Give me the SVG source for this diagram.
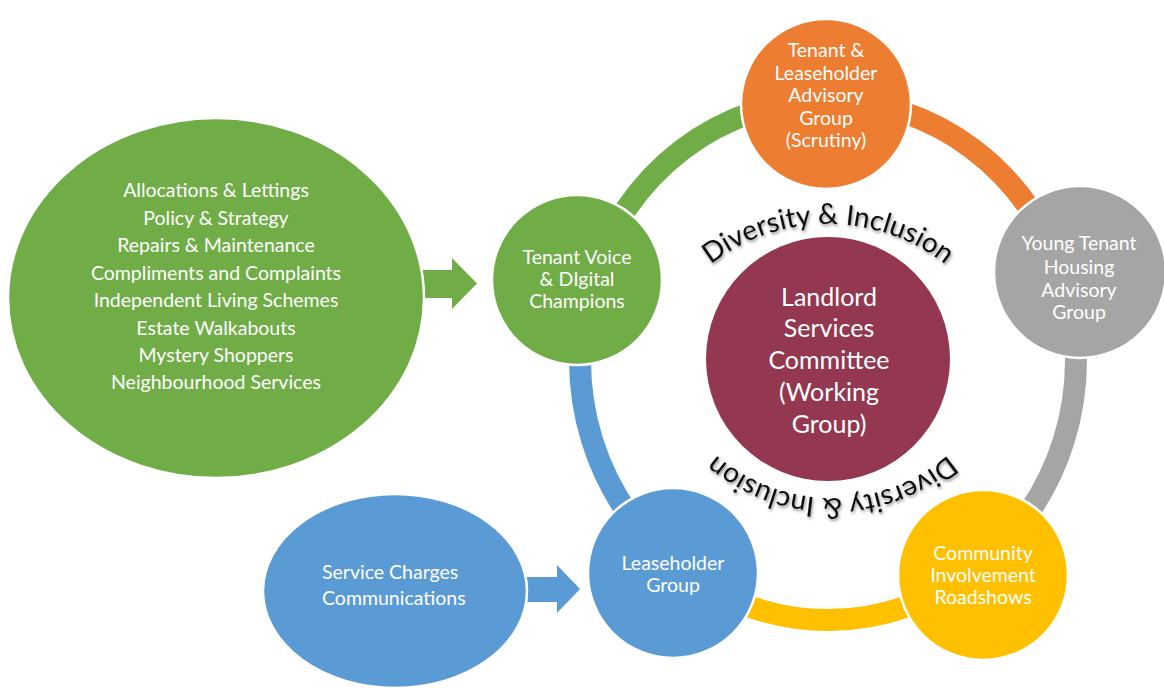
<svg xmlns="http://www.w3.org/2000/svg" width="1164" height="690" viewBox="0 0 1164 690">
  <defs>
    <style>
      .lbl { font-family: Lato, "Open Sans", "Liberation Sans", sans-serif; fill: #ffffff; text-anchor: middle; }
      .n19 { font-size: 19.5px; }
      .big { font-size: 25px; }
      .arc { fill: none; stroke-width: 22; stroke-linecap: butt; }
      .node { stroke: #ffffff; stroke-width: 2.5; }
      .curve { font-family: Lato, "Open Sans", "Liberation Sans", sans-serif; font-size: 28px; fill: #111111; }
    </style>
    <filter id="softShadow" x="-10%" y="-30%" width="120%" height="160%">
      <feDropShadow dx="1" dy="2" stdDeviation="1.6" flood-color="#000000" flood-opacity="0.45"/>
    </filter>
    <path id="topArc" d="M637,415 A191,191 0 0 1 1019,415"/>
    <path id="bottomArc" d="M1010,320 A178,178 0 0 1 654,320"/>
  </defs>

  <rect width="1164" height="690" fill="#ffffff"/>

  <!-- ring segments joining the five groups -->
  <g id="connectors">
    <path class="arc" stroke="#70AD47" d="M592.1,279.7 A248,260 0 0 1 828,100"/>
    <path class="arc" stroke="#ED7D31" d="M828,100 A248,260 0 0 1 1063.9,279.7"/>
    <path class="arc" stroke="#A5A5A5" d="M1063.9,279.7 A248,260 0 0 1 973.8,570.3"/>
    <path class="arc" stroke="#FFC000" d="M973.8,570.3 A248,260 0 0 1 682.2,570.3"/>
    <path class="arc" stroke="#5B9BD5" d="M682.2,570.3 A248,260 0 0 1 592.1,279.7"/>
    <polygon fill="#70AD47" points="410,270 452,270 452,258 477,283.5 452,309 452,298 410,298"/>
    <polygon fill="#5B9BD5" points="515,577 557,577 557,565 580,589 557,613 557,602 515,602"/>
  </g>

  <!-- service areas feeding Tenant Voice -->
  <g id="service-areas">
    <ellipse class="node" cx="216" cy="298" rx="208" ry="180" fill="#70AD47"/>
    <text class="lbl n19" x="216" y="197">Allocations &amp; Lettings</text>
    <text class="lbl n19" x="216" y="225">Policy &amp; Strategy</text>
    <text class="lbl n19" x="216" y="252">Repairs &amp; Maintenance</text>
    <text class="lbl n19" x="216" y="280">Compliments and Complaints</text>
    <text class="lbl n19" x="216" y="307">Independent Living Schemes</text>
    <text class="lbl n19" x="216" y="335">Estate Walkabouts</text>
    <text class="lbl n19" x="216" y="362">Mystery Shoppers</text>
    <text class="lbl n19" x="216" y="389">Neighbourhood Services</text>
  </g>

  <g id="service-charges">
    <ellipse class="node" cx="395" cy="591" rx="132" ry="97" fill="#5B9BD5"/>
    <text class="lbl n19" x="322" y="579" style="text-anchor:start">Service Charges</text>
    <text class="lbl n19" x="322" y="605" style="text-anchor:start">Communications</text>
  </g>

  <g id="tenant-voice">
    <circle class="node" cx="577" cy="280" r="85" fill="#70AD47"/>
    <text class="lbl n19" x="577" y="264">Tenant Voice</text>
    <text class="lbl n19" x="577" y="286">&amp; DIgital</text>
    <text class="lbl n19" x="577" y="308">Champions</text>
  </g>

  <g id="tenant-leaseholder-advisory">
    <circle class="node" cx="826" cy="104" r="85" fill="#ED7D31"/>
    <text class="lbl n19" x="826" y="57">Tenant &amp;</text>
    <text class="lbl n19" x="826" y="79.5">Leaseholder</text>
    <text class="lbl n19" x="826" y="102">Advisory</text>
    <text class="lbl n19" x="826" y="124.5">Group</text>
    <text class="lbl n19" x="826" y="147">(Scrutiny)</text>
  </g>

  <g id="young-tenant">
    <circle class="node" cx="1080" cy="272" r="86" fill="#A5A5A5"/>
    <text class="lbl n19" x="1079" y="250">Young Tenant</text>
    <text class="lbl n19" x="1079" y="274">Housing</text>
    <text class="lbl n19" x="1079" y="297">Advisory</text>
    <text class="lbl n19" x="1079" y="319">Group</text>
  </g>

  <g id="community-roadshows">
    <circle class="node" cx="983" cy="575" r="85" fill="#FFC000"/>
    <text class="lbl n19" x="983" y="560">Community</text>
    <text class="lbl n19" x="983" y="582">Involvement</text>
    <text class="lbl n19" x="983" y="604">Roadshows</text>
  </g>

  <g id="leaseholder-group">
    <circle class="node" cx="673" cy="573" r="85" fill="#5B9BD5"/>
    <text class="lbl n19" x="673" y="570">Leaseholder</text>
    <text class="lbl n19" x="673" y="592">Group</text>
  </g>

  <g id="committee">
    <circle cx="828" cy="359" r="122" fill="#943750"/>
    <text class="lbl big" x="829" y="306">Landlord</text>
    <text class="lbl big" x="829" y="337">Services</text>
    <text class="lbl big" x="829" y="369">Committee</text>
    <text class="lbl big" x="829" y="401">(Working</text>
    <text class="lbl big" x="829" y="433">Group)</text>
  </g>

  <!-- arched captions round the committee -->
  <g id="diversity-captions" filter="url(#softShadow)">
    <text class="curve"><textPath href="#topArc" startOffset="50%" text-anchor="middle">Diversity &amp; Inclusion</textPath></text>
    <text class="curve"><textPath href="#bottomArc" startOffset="50%" text-anchor="middle">Diversity &amp; Inclusion</textPath></text>
  </g>
</svg>
